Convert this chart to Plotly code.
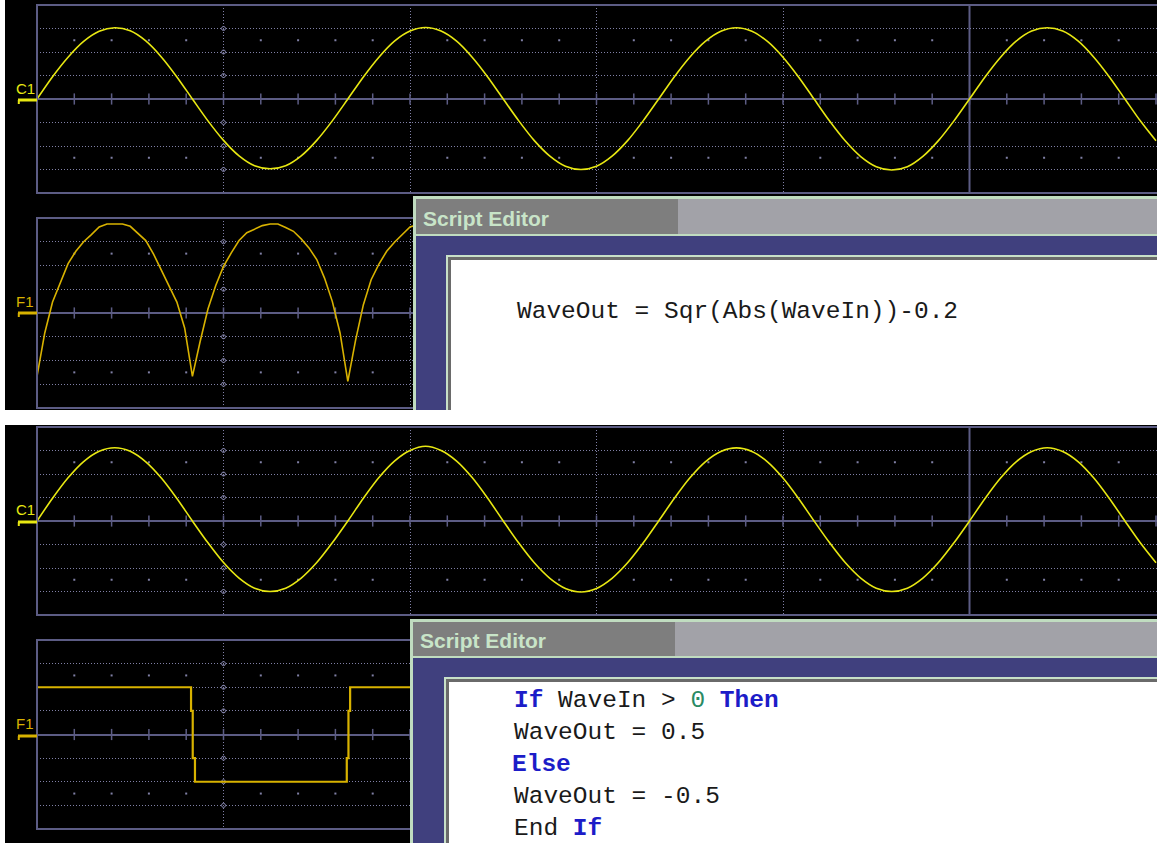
import numpy as np
import plotly.graph_objects as go

W, H = 1157, 843

# ---------------- data (values in screen divisions) ----------------
SAMPLE_STEP = 1 / 12       # divisions between C1 samples
F1_SAMPLE_STEP = 1 / 24    # divisions between F1 samples

c1_top = [0.00, 0.95, 1.78, 2.45, 2.88, 3.03, 2.90, 2.47, 1.79, 0.94,
          0.00, -0.93, -1.76, -2.42, -2.84, -2.97, -2.84, -2.42, -1.76, -0.93,
          0.00, 0.94, 1.78, 2.46, 2.89, 3.04, 2.89, 2.46, 1.78, 0.94,
          0.00, -0.93, -1.77, -2.43, -2.86, -3.00, -2.86, -2.43, -1.77, -0.93,
          0.00, 0.94, 1.78, 2.45, 2.88, 3.03, 2.88, 2.45, 1.78, 0.94,
          0.00, -0.94, -1.78, -2.45, -2.88, -3.02, -2.88, -2.44, -1.77, -0.93,
          0.00, 0.94, 1.78, 2.46, 2.89, 3.03, 2.89, 2.46, 1.78, 0.94,
          0.00, -0.94, -1.78]

f1_top = [-2.67, -0.84, 0.46, 1.31, 2.08, 2.60, 3.00, 3.30, 3.62, 3.75,
          3.75, 3.75, 3.65, 3.33, 3.05, 2.48, 1.81, 1.18, 0.46, -0.63,
          -2.67, -1.19, 0.17, 1.16, 1.96, 2.53, 3.05, 3.38, 3.54, 3.68,
          3.75, 3.75, 3.60, 3.44, 3.12, 2.74, 2.25, 1.47, 0.49, -0.84,
          -2.88, -1.14, 0.35, 1.40, 2.06, 2.60, 2.98, 3.30, 3.62, 3.72,
          3.75, 3.75, 3.70]

c1_bottom = [0.00, 0.97, 1.84, 2.53, 2.97, 3.12, 2.97, 2.52, 1.83, 0.96,
             0.00, -0.93, -1.77, -2.43, -2.86, -3.00, -2.86, -2.43, -1.77, -0.93,
             0.00, 0.97, 1.85, 2.55, 3.00, 3.18, 3.00, 2.55, 1.85, 0.97,
             0.00, -0.94, -1.78, -2.44, -2.87, -3.02, -2.87, -2.44, -1.78, -0.94,
             0.00, 0.96, 1.83, 2.52, 2.96, 3.11, 2.96, 2.52, 1.83, 0.96,
             0.00, -0.93, -1.77, -2.43, -2.86, -3.00, -2.86, -2.43, -1.77, -0.93,
             0.00, 0.96, 1.83, 2.52, 2.96, 3.12, 2.96, 2.52, 1.83, 0.96,
             0.00, -0.94, -1.78]

square_x = [0.0, 0.826, 0.835, 0.847, 1.661, 1.670, 1.679, 2.3]
square_y = [2.0, 1.0, -1.0, -2.0, -1.0, 1.0, 2.0, 2.0]

channel_labels = ["C1", "F1", "C1", "F1"]
editor_title = "Script Editor"
code_top = "WaveOut = Sqr(Abs(WaveIn))-0.2"
KW = "#1c1cc8"
NUM = "#2a8a64"
code_bottom = [
    f'<span style="color:{KW}"><b>If</b></span> WaveIn &gt; <span style="color:{NUM}">0</span> <span style="color:{KW}"><b>Then</b></span>',
    "WaveOut = 0.5",
    f'<span style="color:{KW}"><b>Else</b></span>',
    "WaveOut = -0.5",
    f'End <span style="color:{KW}"><b>If</b></span>',
]

# ---------------- styling ----------------
GRID = "#8080a6"
BOX = "#5c5c84"
C1_COLOR = "#e8e812"
F1_COLOR = "#d8b200"
DIV_PX = 186.5
X_SPAN = (W - 37) / DIV_PX


def fx(p):
    return p / W


def fy(p):
    return 1 - p / H


panels = [(5, 193), (218, 408), (427, 615), (640, 829)]
zero_px = [100, 313, 522, 736]
label_px = [88, 301, 509, 723]
label_colors = [C1_COLOR, F1_COLOR, C1_COLOR, F1_COLOR]

fig = go.Figure()

layout_axes = {}
for i, (top, bot) in enumerate(panels):
    n = "" if i == 0 else str(i + 1)
    layout_axes[f"xaxis{n}"] = dict(
        domain=[37 / W, 1], range=[0, X_SPAN], tickmode="array", tickvals=[1, 2, 3, 4],
        showgrid=True, gridcolor=GRID, griddash="1px,2px", gridwidth=1,
        showticklabels=False, ticks="", zeroline=False, showline=False,
        anchor=f"y{n}", fixedrange=True)
    layout_axes[f"yaxis{n}"] = dict(
        domain=[fy(bot), fy(top)], range=[-4, 4], tickmode="array",
        tickvals=[-3, -2, -1, 1, 2, 3],
        showgrid=True, gridcolor=GRID, griddash="1px,2px", gridwidth=1,
        zeroline=True, zerolinecolor=BOX, zerolinewidth=2,
        showticklabels=False, ticks="", showline=False,
        anchor=f"x{n}", fixedrange=True)

# graticule decorations
minor = [k / 5 for k in range(1, 31)]
minor_off = [v for k, v in enumerate(minor, start=1) if k % 5 != 0]
for i in range(4):
    n = "" if i == 0 else str(i + 1)
    xa, ya = f"x{n}", f"y{n}"
    fig.add_trace(go.Scatter(x=minor, y=[0] * len(minor), mode="markers", xaxis=xa, yaxis=ya,
                             marker=dict(symbol="line-ns", size=8, line=dict(width=1.5, color=BOX)),
                             hoverinfo="skip"))
    fig.add_trace(go.Scatter(x=minor_off * 2, y=[2.5] * len(minor_off) + [-2.5] * len(minor_off),
                             mode="markers", xaxis=xa, yaxis=ya,
                             marker=dict(symbol="square", size=2, color=GRID), hoverinfo="skip"))
    ry = [-3, -2, -1, 1, 2, 3]
    fig.add_trace(go.Scatter(x=[1] * len(ry), y=ry, mode="markers", xaxis=xa, yaxis=ya,
                             marker=dict(symbol="circle-open", size=4, color=GRID, line=dict(width=1)),
                             hoverinfo="skip"))

# waveforms
fig.add_trace(go.Scatter(x=np.arange(len(c1_top)) * SAMPLE_STEP, y=c1_top, mode="lines",
                         line=dict(color=C1_COLOR, width=1.6, shape="spline", smoothing=0.8),
                         xaxis="x", yaxis="y"))
fig.add_trace(go.Scatter(x=np.arange(len(f1_top)) * F1_SAMPLE_STEP, y=f1_top, mode="lines",
                         line=dict(color=F1_COLOR, width=1.6),
                         xaxis="x2", yaxis="y2"))
fig.add_trace(go.Scatter(x=np.arange(len(c1_bottom)) * SAMPLE_STEP, y=c1_bottom, mode="lines",
                         line=dict(color=C1_COLOR, width=1.6, shape="spline", smoothing=0.8),
                         xaxis="x3", yaxis="y3"))
fig.add_trace(go.Scatter(x=square_x, y=square_y, mode="lines",
                         line=dict(color=F1_COLOR, width=2.2, shape="hv"),
                         xaxis="x4", yaxis="y4"))

shapes = []


def rect(x0, y0, x1, y1, color, layer="above"):
    return dict(type="rect", xref="paper", yref="paper", x0=fx(x0), x1=fx(x1),
                y0=fy(y1), y1=fy(y0), fillcolor=color, line=dict(width=0), layer=layer)


def hline(x0, x1, y, color, width):
    return dict(type="line", xref="paper", yref="paper", x0=fx(x0), x1=fx(x1),
                y0=fy(y), y1=fy(y), line=dict(color=color, width=width), layer="above")


def vline(x, y0, y1, color, width):
    return dict(type="line", xref="paper", yref="paper", x0=fx(x), x1=fx(x),
                y0=fy(y0), y1=fy(y1), line=dict(color=color, width=width), layer="above")


for i, (top, bot) in enumerate(panels):
    shapes.append(dict(type="rect", xref="paper", yref="paper", x0=fx(37), x1=fx(1162),
                       y0=fy(bot), y1=fy(top), line=dict(color=BOX, width=2),
                       fillcolor="rgba(0,0,0,0)", layer="above"))
    n = "" if i == 0 else str(i + 1)
    shapes.append(dict(type="line", xref=f"x{n}", yref=f"y{n} domain", x0=5, x1=5, y0=0, y1=1,
                       line=dict(color=BOX, width=2), layer="below"))
    shapes.append(hline(18, 37, zero_px[i], label_colors[i], 3))
    shapes.append(vline(18.8, zero_px[i], zero_px[i] + 4, label_colors[i], 2))

shapes.append(rect(0, 0, 5, H, "#ffffff"))
shapes.append(rect(0, 410, W, 425, "#ffffff"))


def editor(left, top, bottom, split, title_bottom, blue_bottom, inner_left):
    s = []
    s.append(rect(left, top, W, bottom, "#c0dcc0"))
    s.append(rect(left + 3, top + 3, W, title_bottom, "#a2a2a8"))
    s.append(rect(left + 3, top + 3, split, title_bottom, "#7e7e7e"))
    s.append(rect(left + 3, title_bottom + 2, W, bottom, "#40407e"))
    s.append(rect(inner_left, blue_bottom, W, bottom, "#c8e0c8"))
    s.append(rect(inner_left + 2, blue_bottom + 2, W, bottom, "#6a6a6a"))
    s.append(rect(inner_left + 5, blue_bottom + 5, W, bottom, "#ffffff"))
    return s


shapes += editor(413, 196, 410, 678, 234, 255, 446)
shapes += editor(410, 619, H, 675, 656, 677, 444)

annotations = []
for i in range(4):
    annotations.append(dict(text=channel_labels[i], x=fx(25), y=fy(label_px[i]), xref="paper",
                            yref="paper", showarrow=False, xanchor="center", yanchor="middle",
                            font=dict(family="Liberation Sans", size=15, color=label_colors[i])))

for tx, ty in [(421, 218), (418, 640)]:
    annotations.append(dict(text=f"<b>{editor_title}</b>", x=fx(tx), y=fy(ty), xref="paper",
                            yref="paper", showarrow=False, xanchor="left", yanchor="middle",
                            font=dict(family="Liberation Sans", size=21, color="#c8e4c8")))

MONO = dict(family="Liberation Mono", size=24.5, color="#1a1a1a")
annotations.append(dict(text=code_top, x=fx(515), y=fy(311), xref="paper", yref="paper",
                        showarrow=False, xanchor="left", yanchor="middle", font=MONO))
for j, line in enumerate(code_bottom):
    xpos = 510 if j == 2 else 512
    annotations.append(dict(text=line, x=fx(xpos), y=fy(700 + 32 * j), xref="paper", yref="paper",
                            showarrow=False, xanchor="left", yanchor="middle", align="left",
                            font=MONO))

fig.update_layout(
    width=W, height=H, autosize=False,
    margin=dict(l=0, r=0, t=0, b=0, pad=0),
    paper_bgcolor="#000000", plot_bgcolor="#000000",
    showlegend=False, shapes=shapes, annotations=annotations,
    **layout_axes,
)

fig.write_html("out.html", config={"displayModeBar": False, "staticPlot": True},
               post_script="document.body.style.margin='0';document.body.style.overflow='hidden';")
